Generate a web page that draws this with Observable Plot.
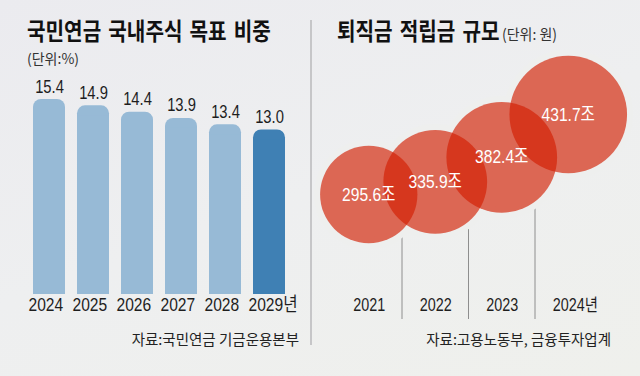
<!DOCTYPE html>
<html><head><meta charset="utf-8">
<script src="https://cdn.jsdelivr.net/npm/d3@7"></script>
<script src="https://cdn.jsdelivr.net/npm/@observablehq/plot@0.6"></script>
<style>
html,body{margin:0;padding:0;background:#eeeff0;}
#wrap{position:relative;width:640px;height:376px;overflow:hidden;background:linear-gradient(160deg,#ebebef 0%,#eeeff0 50%,#eff0ec 100%);font-family:"Noto Sans CJK KR","Noto Sans",sans-serif;color:#1a1a1a;}
.abs{position:absolute;white-space:nowrap;}
.title{font-size:24px;line-height:24px;font-weight:700;color:#111;transform:scaleX(0.84);transform-origin:0 0;word-spacing:3px;}
.sub{font-size:14px;line-height:14px;color:#333;}
.unit{font-size:15px;line-height:15px;color:#333;transform:scaleX(0.93);transform-origin:0 0;}
.src{font-size:14px;line-height:14px;color:#222;}
.divider{position:absolute;left:309.5px;top:20px;width:2px;height:325px;background:#c6c6c8;}
.panel{position:absolute;top:0;}
</style>
</head><body>
<div id="wrap">
  <div class="divider"></div>
  <div id="leftTitle" class="abs title" style="left:27px;top:18px;"></div>
  <div id="leftSub" class="abs sub" style="left:27px;top:51px;"></div>
  <div id="rightTitle" class="abs title" style="left:337px;top:18px;"></div>
  <div id="rightUnit" class="abs unit" style="left:502px;top:26px;"></div>
  <div id="leftSrc" class="abs src" style="right:341px;top:332px;font-size:14.5px;"></div>
  <div id="rightSrc" class="abs src" style="right:29px;top:332px;font-size:14.5px;"></div>
  <div id="leftPanel" class="panel" style="left:0;"></div>
  <div id="rightPanel" class="panel" style="left:310px;"></div>
</div>
<script>
// ---- data ----
const leftTitle = "국민연금 국내주식 목표 비중";
const leftUnit = "(단위:%)";
const leftSource = "자료:국민연금 기금운용본부";
const pensionYears = [2024, 2025, 2026, 2027, 2028, 2029];
const pensionShares = [15.4, 14.9, 14.4, 13.9, 13.4, 13.0];

const rightTitle = "퇴직금 적립금 규모";
const rightUnit = "(단위: 원)";
const rightSource = "자료:고용노동부, 금융투자업계";
const retireYears = [2021, 2022, 2023, 2024];
const retireAmounts = [295.6, 335.9, 382.4, 431.7];

const yearSuffix = "년";
const amountSuffix = "조";

// ---- text ----
document.getElementById("leftTitle").textContent = leftTitle;
document.getElementById("leftSub").textContent = leftUnit;
document.getElementById("leftSrc").textContent = leftSource;
document.getElementById("rightTitle").textContent = rightTitle;
document.getElementById("rightUnit").textContent = rightUnit;
document.getElementById("rightSrc").textContent = rightSource;

const NUM = "'Liberation Sans','Noto Sans CJK KR',sans-serif";
const BG = "#eeefee";
const LIGHT = "#97bad6";
const DARK = "#3f80b4";

const leftData = pensionYears.map((year, i) => ({year, value: pensionShares[i]}));
const lastPension = pensionYears[pensionYears.length - 1];
const barFill = d => d.year === lastPension ? DARK : LIGHT;

const left = Plot.plot({
  width: 310, height: 376,
  marginLeft: 32, marginRight: 24, marginTop: 99, marginBottom: 82,
  style: {background: "transparent", overflow: "visible"},
  x: {type: "band", domain: pensionYears, paddingInner: 0.28, paddingOuter: 0, axis: null},
  y: {domain: [0, d3.max(pensionShares)], axis: null},
  color: {type: "identity"},
  marks: [
    Plot.barY(leftData, {x: "year", y: "value", fill: barFill, rx: 8}),
    Plot.barY(leftData, {x: "year", y: "value", fill: barFill, insetTop: 10}),
    Plot.text(leftData, {x: "year", y: "value", text: d => d.value.toFixed(1), dy: -7, lineAnchor: "bottom",
      fontSize: 18, fontFamily: NUM, fill: "#1e1e1e"}),
    Plot.text(leftData, {x: "year", text: d => d.year === lastPension ? d.year + yearSuffix : String(d.year),
      frameAnchor: "bottom", dy: 16, textAnchor: "start", dx: -21, fontSize: 19, fontFamily: NUM, fill: "#1e1e1e"})
  ]
});
document.getElementById("leftPanel").append(left);

const rightData = retireYears.map((year, i) => ({year, value: retireAmounts[i]}));
const lastRetire = retireYears[retireYears.length - 1];
const dividers = retireYears.slice(1).map(y => y - 0.5);

const right = Plot.plot({
  width: 330, height: 376,
  marginLeft: 25, marginRight: 39, marginTop: 200, marginBottom: 57,
  style: {background: "transparent", overflow: "visible"},
  x: {domain: [d3.min(retireYears) - 0.5, d3.max(retireYears) + 0.5], axis: null},
  y: {type: "pow", exponent: 5, domain: d3.extent(retireAmounts), range: [194, 114], axis: null},
  r: {domain: [0, d3.max(retireAmounts)], range: [0, 58.8]},
  marks: [
    Plot.ruleX(dividers, {stroke: "#8e8e8e", strokeWidth: 1}),
    Plot.dot(rightData, {x: "year", y: "value", r: "value", fill: BG, stroke: BG, strokeWidth: 12}),
    Plot.dot(rightData, {x: "year", y: "value", r: "value", fill: "#d21d02", fillOpacity: 0.65, stroke: "none"}),
    Plot.text(rightData, {x: "year", y: "value", text: d => d.value.toFixed(1) + amountSuffix,
      fill: "white", fontSize: 19, fontFamily: NUM}),
    Plot.text(rightData, {x: "year", text: d => d.year === lastRetire ? d.year + yearSuffix : String(d.year),
      frameAnchor: "bottom", dy: -9, textAnchor: "start", dx: -15.5, fontSize: 17.5, fontFamily: NUM, fill: "#1e1e1e"})
  ]
});
document.getElementById("rightPanel").append(right);

// condense the numeric labels (the reference uses a narrow typeface)
function condense(svg, k) {
  svg.querySelectorAll("text").forEach(t => {
    const w = t.getComputedTextLength();
    if (w > 0) {
      t.setAttribute("textLength", (w * k).toFixed(2));
      t.setAttribute("lengthAdjust", "spacingAndGlyphs");
    }
  });
}
condense(left, 0.82);
condense(right, 0.82);
</script>
</body></html>
